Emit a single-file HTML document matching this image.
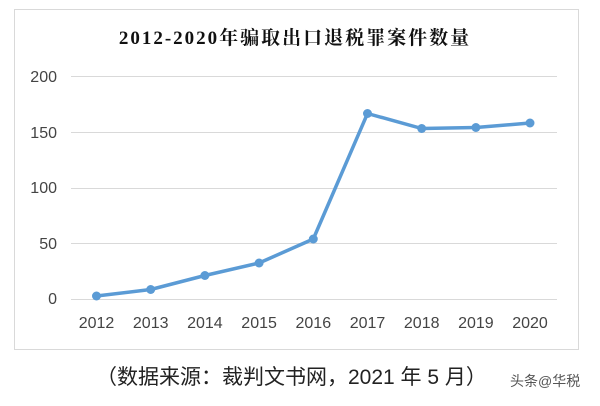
<!DOCTYPE html>
<html><head><meta charset="utf-8"><style>
body{margin:0;background:#fff;width:600px;height:401px;overflow:hidden}
</style></head><body>
<svg width="600" height="401" xmlns="http://www.w3.org/2000/svg" font-family="Liberation Sans, Noto Sans CJK SC, sans-serif">
<rect x="14.5" y="9.5" width="564" height="340" fill="#fff" stroke="#d9d9d9"/>
<text x="295" y="44" text-anchor="middle" font-size="19" font-weight="bold" letter-spacing="2" font-family="Liberation Serif, Noto Serif CJK SC, serif" fill="#111">2012-2020年骗取出口退税罪案件数量</text>
<g stroke="#d9d9d9" stroke-width="1">
<line x1="71" x2="557" y1="76.5" y2="76.5"/>
<line x1="71" x2="557" y1="132.5" y2="132.5"/>
<line x1="71" x2="557" y1="188.5" y2="188.5"/>
<line x1="71" x2="557" y1="243.5" y2="243.5"/>
<line x1="71" x2="557" y1="299.5" y2="299.5"/>
</g>
<g font-size="16" fill="#444" text-anchor="end">
<text x="57" y="82">200</text><text x="57" y="138">150</text><text x="57" y="193">100</text><text x="57" y="249">50</text><text x="57" y="304">0</text>
</g>
<g font-size="16" fill="#444" text-anchor="middle">
<text x="96.5" y="328">2012</text><text x="150.7" y="328">2013</text><text x="204.9" y="328">2014</text><text x="259.1" y="328">2015</text><text x="313.3" y="328">2016</text><text x="367.5" y="328">2017</text><text x="421.7" y="328">2018</text><text x="475.9" y="328">2019</text><text x="530" y="328">2020</text>
</g>
<polyline fill="none" stroke="#5b9bd5" stroke-width="3.5" stroke-linejoin="round" points="96.5,296 150.7,289.5 204.9,275.5 259.1,263 313.3,239 367.5,113.5 421.7,128.5 475.9,127.5 530,123"/>
<g fill="#5b9bd5">
<circle cx="96.5" cy="296" r="4.5"/><circle cx="150.7" cy="289.5" r="4.5"/><circle cx="204.9" cy="275.5" r="4.5"/><circle cx="259.1" cy="263" r="4.5"/><circle cx="313.3" cy="239" r="4.5"/><circle cx="367.5" cy="113.5" r="4.5"/><circle cx="421.7" cy="128.5" r="4.5"/><circle cx="475.9" cy="127.5" r="4.5"/><circle cx="530" cy="123" r="4.5"/>
</g>
<text x="96" y="384" font-size="21" fill="#222">（数据来源：裁判文书网，2021 年 5 月）</text>
<text x="510" y="386" font-size="14" fill="#555">头条@华税</text>
</svg>
</body></html>
